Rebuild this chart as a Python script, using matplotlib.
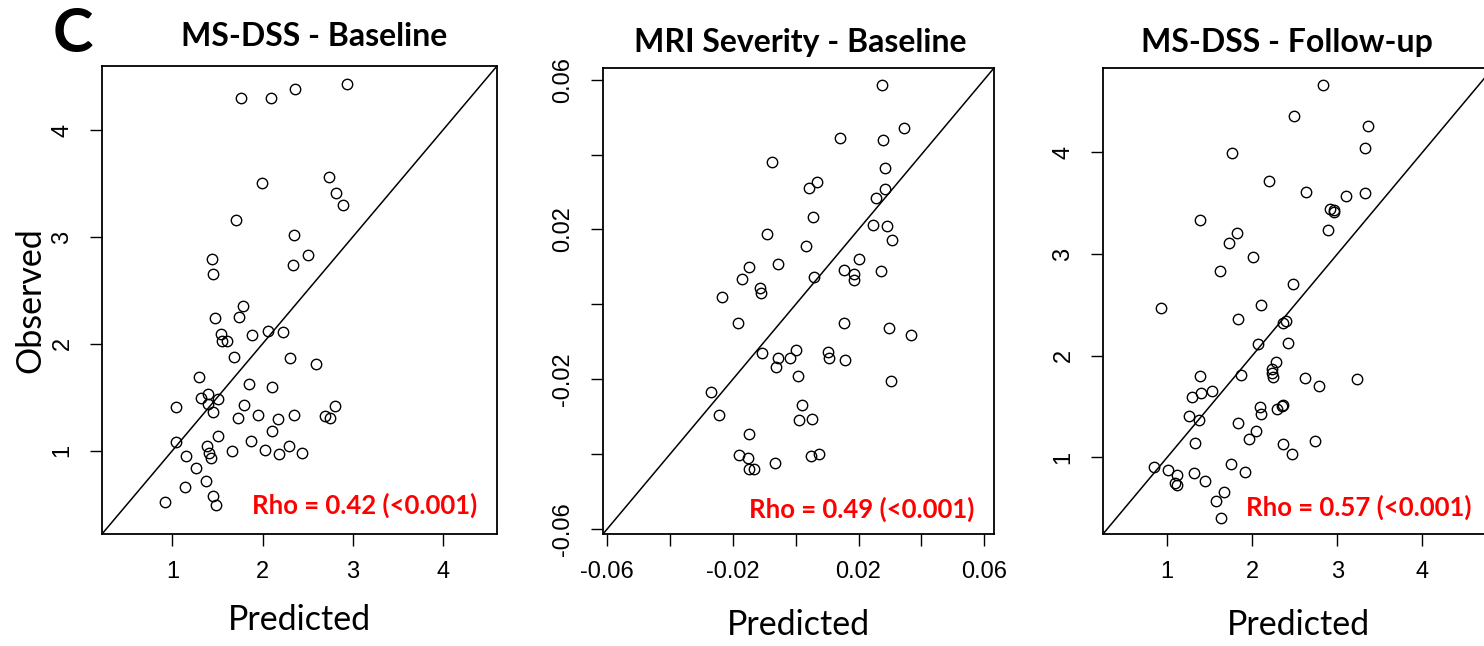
import matplotlib
matplotlib.use("Agg")
import matplotlib.pyplot as plt

# panel C: observed vs predicted
titles = ["MS-DSS - Baseline", "MRI Severity - Baseline", "MS-DSS - Follow-up"]
rho_labels = ["Rho = 0.42 (<0.001)", "Rho = 0.49 (<0.001)", "Rho = 0.57 (<0.001)"]

pred_base = [1.758, 2.097, 2.357, 2.941, 1.989, 2.732, 2.818, 2.892, 1.706, 2.346,
             2.509, 2.338, 1.439, 1.450, 1.788, 1.740, 1.472, 1.535, 1.554, 1.610,
             1.881, 2.056, 2.227, 1.688, 2.301, 2.591, 1.294, 1.848, 2.108, 1.045,
             1.323, 1.398, 1.398, 1.509, 1.450, 1.796, 1.732, 1.948, 2.171, 2.346,
             2.688, 2.747, 2.799, 1.045, 1.509, 2.100, 1.149, 1.383, 1.409, 1.424,
             1.662, 1.870, 2.022, 2.182, 2.290, 2.435, 1.260, 1.141, 1.372, 1.450,
             1.487, 0.922]
obs_base = [4.304, 4.301, 4.385, 4.435, 3.504, 3.560, 3.408, 3.299, 3.156, 3.023,
            2.831, 2.734, 2.796, 2.654, 2.356, 2.250, 2.241, 2.089, 2.030, 2.024,
            2.083, 2.117, 2.111, 1.881, 1.863, 1.807, 1.689, 1.627, 1.593, 1.413,
            1.490, 1.531, 1.434, 1.487, 1.363, 1.428, 1.307, 1.338, 1.292, 1.332,
            1.323, 1.310, 1.422, 1.078, 1.140, 1.186, 0.950, 1.043, 0.975, 0.935,
            0.997, 1.087, 1.009, 0.966, 1.040, 0.978, 0.842, 0.656, 0.715, 0.578,
            0.488, 0.519]

pred_mri = [0.0274, 0.0344, 0.0140, 0.0277, 0.0285, -0.0076, 0.0069, 0.0043, 0.0283, 0.0257,
            0.0055, 0.0245, 0.0290, 0.0308, -0.0091, 0.0032, -0.0055, -0.0147, -0.0171, -0.0114,
            -0.0111, -0.0234, 0.0059, 0.0153, 0.0201, 0.0186, 0.0186, 0.0272, -0.0185, 0.0153,
            0.0296, 0.0367, -0.0107, 0.0001, -0.0055, -0.0019, -0.0061, 0.0104, 0.0107, 0.0157,
            0.0007, 0.0302, -0.0269, -0.0244, 0.0020, 0.0011, 0.0053, -0.0150, -0.0180, -0.0152,
            -0.0147, -0.0134, -0.0066, 0.0050, 0.0073]
obs_mri = [0.0585, 0.0470, 0.0444, 0.0438, 0.0365, 0.0379, 0.0326, 0.0311, 0.0307, 0.0283,
           0.0233, 0.0213, 0.0209, 0.0171, 0.0189, 0.0155, 0.0108, 0.0100, 0.0067, 0.0043,
           0.0030, 0.0020, 0.0073, 0.0093, 0.0121, 0.0082, 0.0065, 0.0089, -0.0051, -0.0049,
           -0.0063, -0.0083, -0.0131, -0.0121, -0.0144, -0.0144, -0.0168, -0.0127, -0.0144, -0.0148,
           -0.0190, -0.0205, -0.0235, -0.0296, -0.0269, -0.0308, -0.0307, -0.0347, -0.0402, -0.0411,
           -0.0440, -0.0439, -0.0423, -0.0404, -0.0400]

pred_fu = [2.837, 2.488, 3.362, 3.327, 1.760, 2.195, 2.626, 3.103, 3.331, 2.908,
           2.966, 2.958, 2.888, 1.380, 1.826, 1.721, 2.007, 1.623, 2.473, 0.926,
           2.097, 1.834, 2.367, 2.394, 2.069, 2.422, 2.273, 2.226, 2.234, 2.242,
           1.873, 1.388, 2.618, 2.786, 3.229, 1.529, 1.286, 1.403, 1.255, 1.376,
           2.093, 2.105, 2.293, 2.344, 2.363, 1.830, 2.046, 1.960, 1.325, 2.367,
           2.465, 2.739, 0.847, 1.008, 1.118, 1.086, 1.110, 1.309, 1.443, 1.744,
           1.917, 1.670, 1.568, 1.635]
obs_fu = [4.658, 4.355, 4.261, 4.045, 3.996, 3.719, 3.612, 3.573, 3.605, 3.442,
          3.432, 3.413, 3.240, 3.331, 3.211, 3.110, 2.966, 2.829, 2.709, 2.464,
          2.500, 2.356, 2.321, 2.337, 2.112, 2.125, 1.942, 1.871, 1.831, 1.792,
          1.809, 1.796, 1.776, 1.701, 1.766, 1.655, 1.597, 1.629, 1.404, 1.368,
          1.492, 1.430, 1.476, 1.505, 1.512, 1.336, 1.261, 1.183, 1.143, 1.127,
          1.029, 1.160, 0.909, 0.870, 0.821, 0.746, 0.723, 0.847, 0.765, 0.938,
          0.853, 0.661, 0.573, 0.403]

limits = [(0.22, 4.60), (-0.0613, 0.0631), (0.245, 4.83)]
ticks = [[1, 2, 3, 4],
         [-0.06, -0.04, -0.02, 0.0, 0.02, 0.04, 0.06],
         [1, 2, 3, 4]]
ticklabels = [["1", "2", "3", "4"],
              ["-0.06", "", "-0.02", "", "0.02", "", "0.06"],
              ["1", "2", "3", "4"]]

W, H = 1484, 646
fig = plt.figure(figsize=(W / 100, H / 100), dpi=100)

# axes boxes in pixels (left, right, top, bottom)
boxes = [(102, 497, 66, 534), (603, 994, 68, 534), (1103, 1493, 68, 534)]
title_x = [0.537, 0.504, 0.471]
title_y = [1.064, 1.054, 1.054]
rho_pos = [(0.949, 0.062), (0.951, 0.052), (0.946, 0.058)]
xlab_y = [-0.184, -0.195, -0.195]

data = [(pred_base, obs_base), (pred_mri, obs_mri), (pred_fu, obs_fu)]
cal = ["Lato", "DejaVu Sans"]
tickfont = "Liberation Sans"

for i in range(3):
    l, r, t, b = boxes[i]
    ax = fig.add_axes([l / W, (H - b) / H, (r - l) / W, (b - t) / H])
    px, py = data[i]
    ax.plot(px, py, "o", mfc="none", mec="black", mew=1.0, ms=7.5, ls="none")
    ax.axline((0, 0), slope=1, color="black", lw=1.1)
    ax.set_xlim(limits[i])
    ax.set_ylim(limits[i])
    ax.set_xticks(ticks[i])
    ax.set_yticks(ticks[i])
    ax.set_xticklabels(ticklabels[i], fontname=tickfont, fontsize=17)
    ax.set_yticklabels(ticklabels[i], fontname=tickfont, fontsize=17,
                       rotation=90, va="center")
    ax.tick_params(direction="out", length=8.6, width=1.0, pad=11)
    ax.tick_params(axis="y", pad=12)
    for sp in ax.spines.values():
        sp.set_linewidth(1.3)
    ax.set_title(titles[i], family=cal, fontweight="bold", fontsize=23,
                 x=title_x[i], y=title_y[i], va="center", pad=0)
    ax.set_xlabel("Predicted", family=cal, fontsize=24.5, va="center")
    ax.xaxis.set_label_coords(0.5, xlab_y[i])
    if i == 0:
        ax.set_ylabel("Observed", family=cal, fontsize=24.5, va="center")
        ax.yaxis.set_label_coords(-0.182, 0.5)
    ax.text(rho_pos[i][0], rho_pos[i][1], rho_labels[i], transform=ax.transAxes,
            ha="right", va="center", color="#ff0000", fontweight="bold",
            family=cal, fontsize=18.5)

fig.text(73 / W, 1 - 34 / H, "C", family=cal, fontweight="bold", fontsize=44,
         ha="center", va="center")

fig.savefig("out.png", dpi=100)
